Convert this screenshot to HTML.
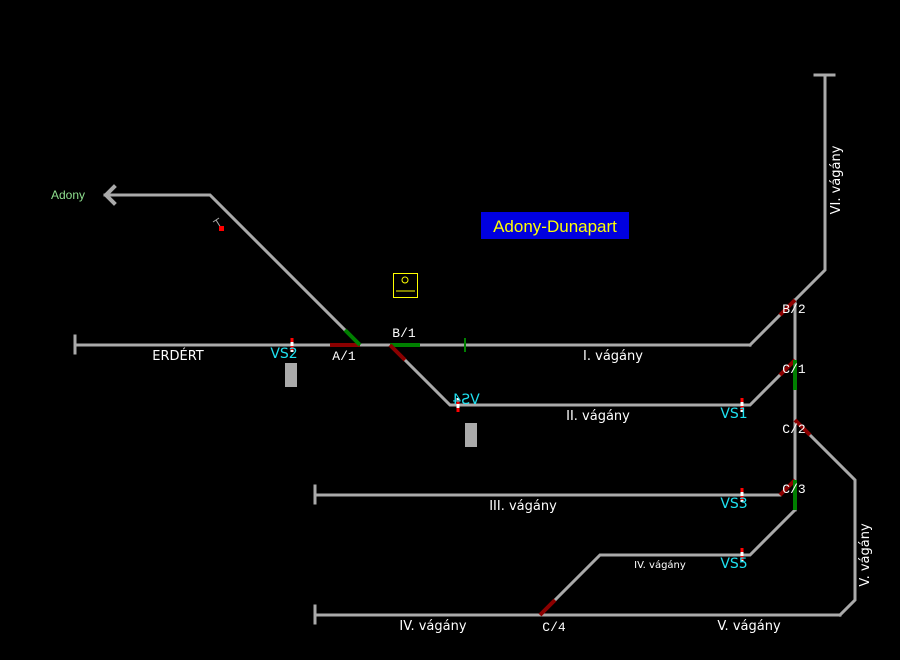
<!DOCTYPE html>
<html><head><style>
html,body{margin:0;padding:0;background:#000;width:900px;height:660px;overflow:hidden}
text{font-family:"Liberation Sans",sans-serif}
.m{font-family:"Liberation Mono",monospace;font-size:13px;fill:#fff}
.w{font-size:13px;fill:#fff;font-family:"DejaVu Sans",sans-serif}
.c{font-size:14px;fill:#1ee0f0;font-family:"DejaVu Sans",sans-serif}
</style></head><body>
<svg width="900" height="660" xmlns="http://www.w3.org/2000/svg">
<g stroke="#aaa" stroke-width="3" fill="none" stroke-linecap="square">
<polyline points="105,195 210,195 345,330"/>
<polyline points="114,187 106,195 114,203" stroke-width="4"/>
<line x1="75" y1="345" x2="750" y2="345"/>
<line x1="75" y1="336" x2="75" y2="353"/>
<polyline points="750,345 780,315"/>
<polyline points="795,300 825,270 825,75"/>
<line x1="815" y1="75" x2="834" y2="75"/>
<line x1="795" y1="300" x2="795" y2="510"/>
<polyline points="405,360 450,405 750,405 780,375"/>
<polyline points="810,435 855,480 855,600 840,615"/>
<line x1="315" y1="495" x2="780" y2="495"/>
<line x1="315" y1="486" x2="315" y2="503"/>
<polyline points="795,510 750,555 600,555 555,600"/>
<line x1="315" y1="615" x2="840" y2="615"/>
<line x1="315" y1="606" x2="315" y2="623"/>
</g>
<g stroke-width="4">
<line x1="330" y1="345" x2="360" y2="345" stroke="#8b0000"/>
<line x1="345" y1="330" x2="360" y2="345" stroke="#008000"/>
<line x1="390" y1="345" x2="420" y2="345" stroke="#008000"/>
<line x1="465" y1="338" x2="465" y2="352" stroke="#008000" stroke-width="2"/>
<line x1="390" y1="345" x2="405" y2="360" stroke="#8b0000"/>
<line x1="780" y1="315" x2="795" y2="300" stroke="#8b0000"/>
<line x1="780" y1="375" x2="795" y2="360" stroke="#8b0000"/>
<line x1="795" y1="360" x2="795" y2="390" stroke="#008000"/>
<line x1="795" y1="420" x2="810" y2="435" stroke="#8b0000"/>
<line x1="780" y1="495" x2="795" y2="480" stroke="#8b0000"/>
<line x1="795" y1="480" x2="795" y2="510" stroke="#008000"/>
<line x1="555" y1="600" x2="540" y2="615" stroke="#8b0000"/>
</g>
<g stroke-width="3">
<line x1="292" y1="338" x2="292" y2="352" stroke="#fff"/><line x1="292" y1="338" x2="292" y2="342" stroke="red"/><line x1="292" y1="346" x2="292" y2="350" stroke="red"/>
<line x1="458" y1="398" x2="458" y2="412" stroke="#fff"/><line x1="458" y1="400" x2="458" y2="404" stroke="red"/><line x1="458" y1="408" x2="458" y2="412" stroke="red"/>
<line x1="742" y1="398" x2="742" y2="412" stroke="#fff"/><line x1="742" y1="398" x2="742" y2="402" stroke="red"/><line x1="742" y1="406" x2="742" y2="410" stroke="red"/>
<line x1="742" y1="488" x2="742" y2="502" stroke="#fff"/><line x1="742" y1="488" x2="742" y2="492" stroke="red"/><line x1="742" y1="496" x2="742" y2="500" stroke="red"/>
<line x1="742" y1="548" x2="742" y2="562" stroke="#fff"/><line x1="742" y1="548" x2="742" y2="552" stroke="red"/><line x1="742" y1="556" x2="742" y2="560" stroke="red"/>
</g>
<rect x="285" y="363" width="12" height="24" fill="#aaa"/>
<rect x="465" y="423" width="12" height="24" fill="#aaa"/>
<rect x="393.5" y="273.5" width="24" height="24" fill="none" stroke="#ff0" stroke-width="1"/>
<circle cx="405" cy="280" r="3" fill="none" stroke="#ff0"/>
<line x1="396" y1="291" x2="415" y2="291" stroke="#ff0"/>
<line x1="213" y1="222" x2="219" y2="218" stroke="#aaa"/><line x1="216" y1="220" x2="221" y2="228" stroke="#aaa"/>
<rect x="219" y="226" width="5" height="5" fill="red"/>
<rect x="481" y="212" width="148" height="27" fill="#0000e0"/>
<text x="555" y="232" text-anchor="middle" font-size="17" fill="#ff0">Adony-Dunapart</text>
<text x="68" y="199" text-anchor="middle" font-size="12" fill="#8fe08f">Adony</text>
<text x="178" y="360" text-anchor="middle" class="w">ERDÉRT</text>
<text x="613" y="360" text-anchor="middle" class="w">I. vágány</text>
<text x="598" y="420" text-anchor="middle" class="w">II. vágány</text>
<text x="523" y="510" text-anchor="middle" class="w">III. vágány</text>
<text x="660" y="568" text-anchor="middle" class="w" style="font-size:10px">IV. vágány</text>
<text x="433" y="630" text-anchor="middle" class="w">IV. vágány</text>
<text x="749" y="630" text-anchor="middle" class="w">V. vágány</text>
<text transform="translate(840,180) rotate(-90)" text-anchor="middle" class="w">VI. vágány</text>
<text transform="translate(869,555) rotate(-90)" text-anchor="middle" class="w">V. vágány</text>
<text x="344" y="360" text-anchor="middle" class="m">A/1</text>
<text x="404" y="337" text-anchor="middle" class="m">B/1</text>
<text x="794" y="313" text-anchor="middle" class="m">B/2</text>
<text x="794" y="373" text-anchor="middle" class="m">C/1</text>
<text x="794" y="433" text-anchor="middle" class="m">C/2</text>
<text x="794" y="493" text-anchor="middle" class="m">C/3</text>
<text x="554" y="631" text-anchor="middle" class="m">C/4</text>
<text x="284" y="358" text-anchor="middle" class="c">VS2</text>
<text transform="translate(466,404) scale(-1,1)" text-anchor="middle" class="c">VS4</text>
<text x="734" y="418" text-anchor="middle" class="c">VS1</text>
<text x="734" y="508" text-anchor="middle" class="c">VS3</text>
<text x="734" y="568" text-anchor="middle" class="c">VS5</text>
</svg>
</body></html>
